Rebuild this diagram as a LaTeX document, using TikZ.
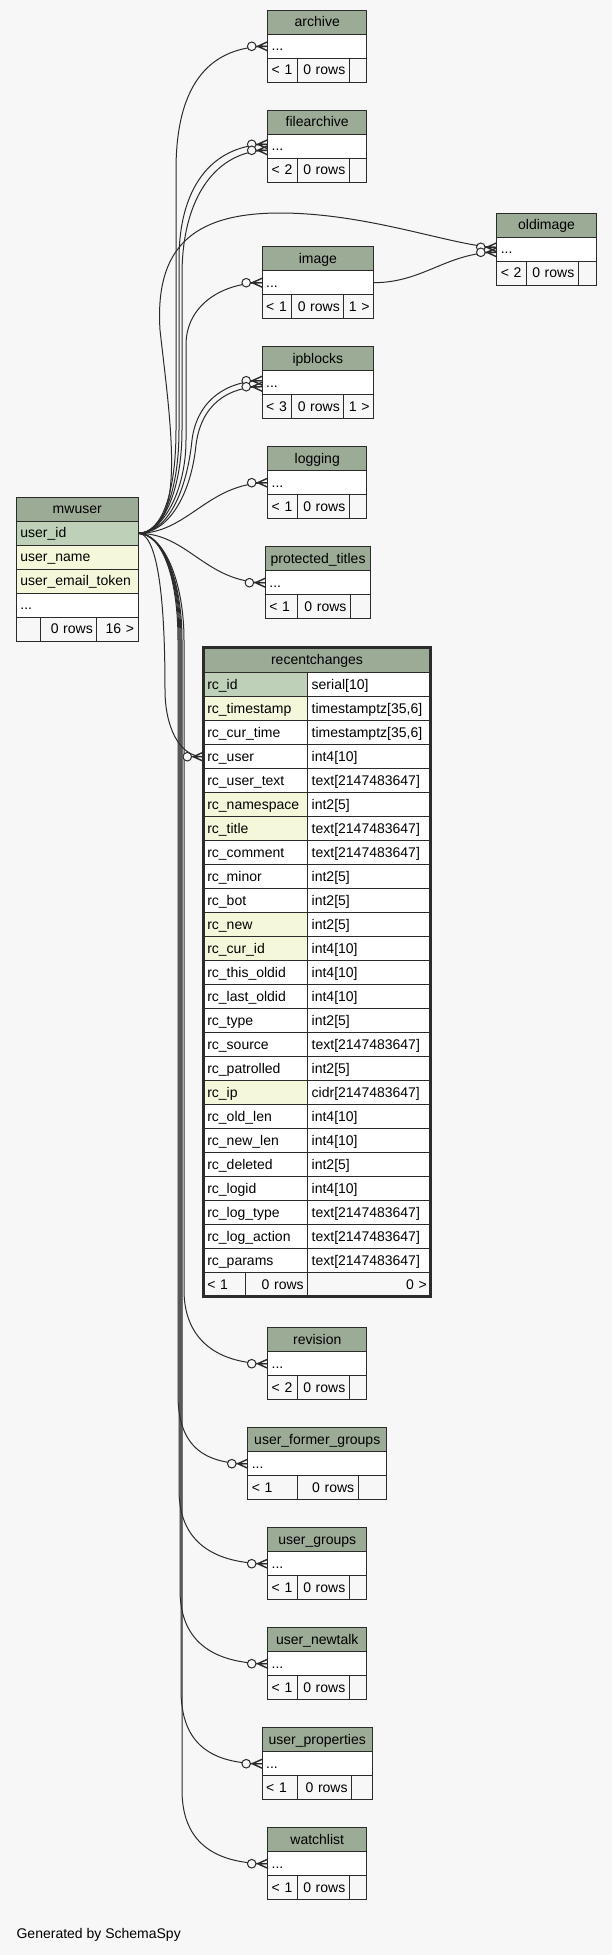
\documentclass[tikz,border=0pt]{standalone}
\usepackage{fontspec}
\setmainfont{Liberation Sans}
\usetikzlibrary{positioning}

\definecolor{bgc}{HTML}{F7F7F7}
\definecolor{headc}{HTML}{9BAB96}
\definecolor{keyc}{HTML}{BED1B8}
\definecolor{idxc}{HTML}{F4F7DA}
\definecolor{footc}{HTML}{F7F7F7}
\definecolor{linec}{HTML}{2B2B2B}

\newcommand{\tblfont}{\fontsize{14}{16}\selectfont}

\tikzset{
  tblhead/.style={draw=linec, line width=1pt, fill=headc, anchor=north west,
    minimum height=24pt, inner sep=0pt, outer sep=0pt, text height=12pt, text depth=3pt},
  tblcell/.style={draw=linec, line width=1pt, fill=white, anchor=north west,
    minimum height=24pt, inner xsep=4pt, inner ysep=0pt, outer sep=0pt, align=left,
    text height=12pt, text depth=3pt},
  tblfoot/.style={tblcell, fill=footc},
  fk/.style={draw=linec, line width=1pt},
  crow/.pic={
    \draw[fk, line width=1.4pt] (-10,0) -- (0,-4.5) (-10,0) -- (0,4.5) (-12,0) -- (0,0);
    \draw[fk, fill=bgc] (-16,0) circle[radius=4.3pt];
  }
}

% name, title, x, y, width, foot cell 1, foot cell 2, left foot, right foot
\newcommand{\smalltbl}[9]{%
  \pgfmathsetmacro{\tw}{#5-8}
  \pgfmathsetmacro{\fa}{#6-8}
  \pgfmathsetmacro{\fb}{#7-8}
  \pgfmathsetmacro{\fc}{#5-#6-#7-8}
  \node[tblhead, minimum width=#5pt] (#1) at (#3,#4) {#2};
  \node[tblcell, text width=\tw pt] (#1-row) at (#1.south west) {...};
  \node[tblfoot, text width=\fa pt] (#1-f1) at (#1-row.south west) {#8};
  \node[tblfoot, align=right, text width=\fb pt] (#1-f2) at (#1-f1.north east) {0 rows};
  \node[tblfoot, align=right, text width=\fc pt] (#1-f3) at (#1-f2.north east) {#9};
}

\begin{document}
\begin{tikzpicture}[x=1pt, y=-1pt, every node/.style={font=\tblfont}]
  \useasboundingbox[fill=bgc] (0,0) rectangle (612,1955);

  % tables around mwuser
  \smalltbl{archive}{archive}{267.7}{10.3}{99.1}{29.7}{51.9}{< 1}{}
  \smalltbl{filearchive}{filearchive}{267.7}{110.3}{99.1}{29.7}{51.9}{< 2}{}
  \smalltbl{oldimage}{oldimage}{496.8}{213.3}{99.5}{29.6}{51.9}{< 2}{}
  \smalltbl{image}{image}{262.2}{246.7}{111.3}{29.7}{51.9}{< 1}{1 >}
  \smalltbl{ipblocks}{ipblocks}{262.2}{346.7}{111.3}{29.7}{51.9}{< 3}{1 >}
  \smalltbl{logging}{logging}{267.7}{446.7}{99.1}{29.7}{51.9}{< 1}{}
  \smalltbl{protected}{protected\_titles}{265.4}{546.7}{105.3}{32}{53}{< 1}{}
  \smalltbl{revision}{revision}{267.7}{1327.7}{99.1}{29.7}{51.9}{< 2}{}
  \smalltbl{formergroups}{user\_former\_groups}{247.8}{1427.7}{138.9}{49.6}{60.8}{< 1}{}
  \smalltbl{groups}{user\_groups}{267.7}{1527.7}{99.1}{29.7}{51.9}{< 1}{}
  \smalltbl{newtalk}{user\_newtalk}{267.7}{1627.7}{99.1}{29.7}{51.9}{< 1}{}
  \smalltbl{properties}{user\_properties}{262.2}{1727.7}{110.1}{35.2}{54.2}{< 1}{}
  \smalltbl{watchlist}{watchlist}{267.7}{1827.7}{99.1}{29.7}{51.9}{< 1}{}

  % mwuser
  \node[tblhead, minimum width=121.7pt] (mw) at (16.4,497.3) {mwuser};
  \node[tblcell, fill=keyc, text width=113.7pt] (mw-id) at (mw.south west) {user\_id};
  \node[tblcell, fill=idxc, text width=113.7pt] (mw-name) at (mw-id.south west) {user\_name};
  \node[tblcell, fill=idxc, text width=113.7pt] (mw-email) at (mw-name.south west) {user\_email\_token};
  \node[tblcell, text width=113.7pt] (mw-more) at (mw-email.south west) {...};
  \node[tblfoot, text width=16.2pt] (mw-f1) at (mw-more.south west) {};
  \node[tblfoot, align=right, text width=48.2pt] (mw-f2) at (mw-f1.north east) {0 rows};
  \node[tblfoot, align=right, text width=33.3pt] (mw-f3) at (mw-f2.north east) {16 >};

  % recentchanges
  \node[tblhead, minimum width=227.4pt, minimum height=25.4pt] (rc) at (203.3,647.3) {recentchanges};
  \foreach \col/\typ/\fc [count=\i from 0] in {
      id/{serial[10]}/keyc, timestamp/{timestamptz[35,6]}/idxc,
      cur\_time/{timestamptz[35,6]}/white, user/{int4[10]}/white,
      user\_text/{text[2147483647]}/white, namespace/{int2[5]}/idxc,
      title/{text[2147483647]}/idxc, comment/{text[2147483647]}/white,
      minor/{int2[5]}/white, bot/{int2[5]}/white, new/{int2[5]}/idxc,
      cur\_id/{int4[10]}/idxc, this\_oldid/{int4[10]}/white,
      last\_oldid/{int4[10]}/white, type/{int2[5]}/white,
      source/{text[2147483647]}/white, patrolled/{int2[5]}/white,
      ip/{cidr[2147483647]}/idxc, old\_len/{int4[10]}/white,
      new\_len/{int4[10]}/white, deleted/{int2[5]}/white,
      logid/{int4[10]}/white, log\_type/{text[2147483647]}/white,
      log\_action/{text[2147483647]}/white, params/{text[2147483647]}/white}
  {
    \node[tblcell, fill=\fc, text width=96.4pt] (rc-\i) at (203.3,672.7+\i*24) {rc\_\col};
    \node[tblcell, text width=115pt] (rc-\i-t) at (rc-\i.north east) {\typ};
  }
  \node[tblfoot, text width=33.7pt] (rc-f1) at (203.3,1272.7) {< 1};
  \node[tblfoot, align=right, text width=54.7pt] (rc-f2) at (rc-f1.north east) {0 rows};
  \node[tblfoot, align=right, text width=115pt] (rc-f3) at (rc-f2.north east) {0 >};
  \draw[draw=linec, line width=3pt] (rc.north west) rectangle (rc-f3.south east);

  % connectors going up
  \draw[fk] (mw-id.east) .. controls +(25,0) and +(0,60) .. (176,430) -- (176,170)
    .. controls +(0,-90) and +(-55,0) .. (archive-row.west);
  \draw[fk] (mw-id.east) .. controls +(25,0) and +(0,60) .. (179,430) -- (179,260)
    .. controls +(0,-80) and +(-50,0) .. ([yshift=2pt]filearchive-row.west);
  \draw[fk] (mw-id.east) .. controls +(25,0) and +(0,60) .. (182,430) -- (182,275)
    .. controls +(0,-80) and +(-50,0) .. ([yshift=-4pt]filearchive-row.west);
  \draw[fk] (mw-id.east) .. controls +(50,0) and +(10,90) .. (160,330)
    .. controls +(-5,-80) and +(-90,0) .. (280,213)
    .. controls +(90,0) and +(-40,0) .. ([yshift=2pt]oldimage-row.west);
  \draw[fk] (image-row.east) .. controls +(50,0) and +(-50,0) .. ([yshift=-3pt]oldimage-row.west);
  \draw[fk] (mw-id.east) .. controls +(25,0) and +(0,50) .. (186,440) -- (186,345)
    .. controls +(0,-40) and +(-40,0) .. (image-row.west);
  \draw[fk] (mw-id.east) .. controls +(30,0) and +(-5,50) .. (192,440)
    .. controls +(5,-40) and +(-35,0) .. ([yshift=2pt]ipblocks-row.west);
  \draw[fk] (mw-id.east) .. controls +(30,0) and +(-5,50) .. (196,445)
    .. controls +(5,-40) and +(-35,0) .. ([yshift=-4pt]ipblocks-row.west);
  \draw[fk] (mw-id.east) .. controls +(50,0) and +(-60,0) .. (logging-row.west);
  \draw[fk] (mw-id.east) .. controls +(50,0) and +(-60,0) .. (protected-row.west);

  % connectors going down
  \draw[fk] (mw-id.east) .. controls +(25,0) and +(0,-50) .. (165,690)
    .. controls +(0,35) and +(-25,0) .. (rc-3.west);
  \draw[fk] (mw-id.east) .. controls +(25,0) and +(0,-60) .. (184,640) -- (184,1290)
    .. controls +(0,50) and +(-50,0) .. (revision-row.west);
  \draw[fk] (mw-id.east) .. controls +(25,0) and +(0,-60) .. (178,640) -- (178,1395)
    .. controls +(0,50) and +(-45,0) .. (formergroups-row.west);
  \draw[fk] (mw-id.east) .. controls +(25,0) and +(0,-60) .. (179,640) -- (179,1490)
    .. controls +(0,55) and +(-50,0) .. (groups-row.west);
  \draw[fk] (mw-id.east) .. controls +(25,0) and +(0,-60) .. (180,640) -- (180,1590)
    .. controls +(0,55) and +(-50,0) .. (newtalk-row.west);
  \draw[fk] (mw-id.east) .. controls +(25,0) and +(0,-60) .. (181,640) -- (181,1690)
    .. controls +(0,55) and +(-50,0) .. (properties-row.west);
  \draw[fk] (mw-id.east) .. controls +(25,0) and +(0,-60) .. (182,640) -- (182,1790)
    .. controls +(0,55) and +(-50,0) .. (watchlist-row.west);

  % zero-or-many ends
  \pic at (archive-row.west) {crow};
  \pic at ([yshift=2pt]filearchive-row.west) {crow};
  \pic at ([yshift=-4pt]filearchive-row.west) {crow};
  \pic at ([yshift=2pt]oldimage-row.west) {crow};
  \pic at ([yshift=-3pt]oldimage-row.west) {crow};
  \pic at (image-row.west) {crow};
  \pic at ([yshift=2pt]ipblocks-row.west) {crow};
  \pic at ([yshift=-4pt]ipblocks-row.west) {crow};
  \pic at (logging-row.west) {crow};
  \pic at (protected-row.west) {crow};
  \pic at (rc-3.west) {crow};
  \pic at (revision-row.west) {crow};
  \pic at (formergroups-row.west) {crow};
  \pic at (groups-row.west) {crow};
  \pic at (newtalk-row.west) {crow};
  \pic at (properties-row.west) {crow};
  \pic at (watchlist-row.west) {crow};

  \node[anchor=west, inner sep=0pt] (credit) at (16.4,1935) {Generated by SchemaSpy};
\end{tikzpicture}
\end{document}
